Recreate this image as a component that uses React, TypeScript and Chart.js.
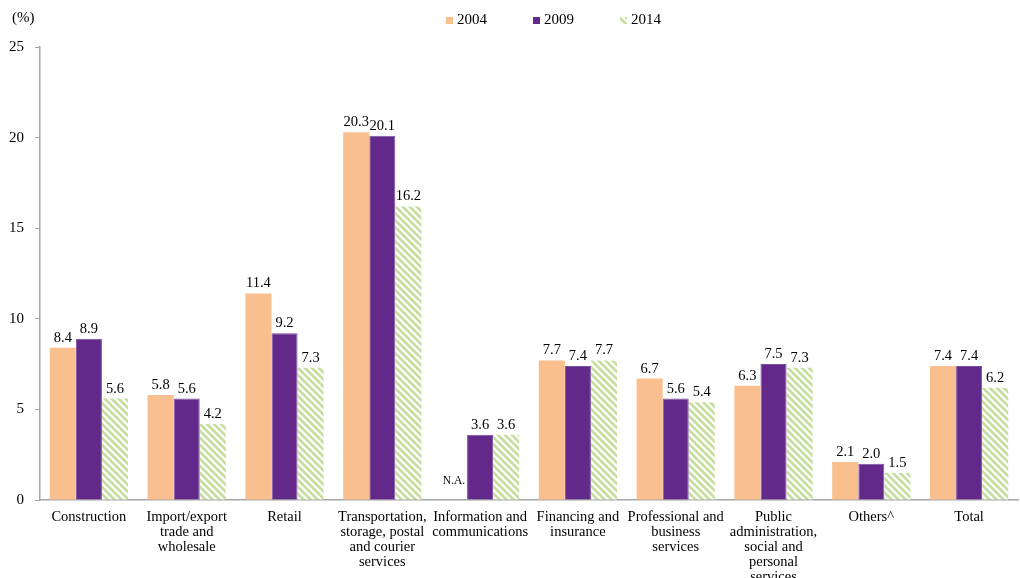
import React, { useEffect, useRef } from "react";
import { Chart, registerables } from "chart.js";

Chart.register(...registerables);

const categories: string[][] = [
  ["Construction"],
  ["Import/export", "trade and", "wholesale"],
  ["Retail"],
  ["Transportation,", "storage, postal", "and courier", "services"],
  ["Information and", "communications"],
  ["Financing and", "insurance"],
  ["Professional and", "business", "services"],
  ["Public", "administration,", "social and", "personal", "services"],
  ["Others^"],
  ["Total"],
];

const seriesNames = ["2004", "2009", "2014"];
const values2004: (number | null)[] = [8.4, 5.8, 11.4, 20.3, null, 7.7, 6.7, 6.3, 2.1, 7.4];
const values2009: (number | null)[] = [8.9, 5.6, 9.2, 20.1, 3.6, 7.4, 5.6, 7.5, 2.0, 7.4];
const values2014: (number | null)[] = [5.6, 4.2, 7.3, 16.2, 3.6, 7.7, 5.4, 7.3, 1.5, 6.2];
const yTicks = [0, 5, 10, 15, 20, 25];

const FONT = "'Liberation Serif', 'Times New Roman', serif";
const C2004 = "#f9bf8f";
const C2009 = "#62298a";
const C2014 = "#c6dfa0";

function makePattern(): CanvasPattern | string {
  const c = document.createElement("canvas");
  const s = 7;
  c.width = s;
  c.height = s;
  const ctx = c.getContext("2d");
  if (!ctx) return C2014;
  ctx.fillStyle = "#ffffff";
  ctx.fillRect(0, 0, s, s);
  ctx.strokeStyle = C2014;
  ctx.lineWidth = 2.8;
  ctx.beginPath();
  for (let k = -1; k <= 1; k++) {
    ctx.moveTo(k * s - 1, -1);
    ctx.lineTo(k * s + s + 1, s + 1);
  }
  ctx.stroke();
  const p = ctx.createPattern(c, "repeat");
  return p || C2014;
}

export default function App() {
  const ref = useRef<HTMLCanvasElement | null>(null);

  useEffect(() => {
    document.body.style.margin = "0";
    const canvas = ref.current;
    if (!canvas) return;
    const pattern = makePattern();
    const fills = [C2004, C2009, pattern];

    const labelPlugin = {
      id: "valueLabels",
      afterDatasetsDraw(chart: any) {
        const ctx = chart.ctx;
        ctx.save();
        ctx.fillStyle = "#000";
        ctx.textAlign = "center";
        chart.data.datasets.forEach((ds: any, di: number) => {
          const meta = chart.getDatasetMeta(di);
          meta.data.forEach((el: any, i: number) => {
            const v = ds.data[i];
            if (v === null || v === undefined) {
              const x = Number.isFinite(el.x) ? el.x : chart.scales.x.getPixelForValue(i);
              ctx.font = `11.5px ${FONT}`;
              ctx.textBaseline = "middle";
              ctx.fillText("N.A.", x, chart.scales.y.getPixelForValue(0) - 19);
              return;
            }
            ctx.font = `14.5px ${FONT}`;
            ctx.textBaseline = "alphabetic";
            ctx.fillText(v.toFixed(1), el.x, el.y - 6);
          });
        });
        ctx.restore();
      },
    };

    const legendPlugin = {
      id: "manualLegend",
      afterDraw(chart: any) {
        const ctx = chart.ctx;
        ctx.save();
        ctx.font = `15px ${FONT}`;
        ctx.textBaseline = "middle";
        ctx.textAlign = "left";
        const starts = [446, 533, 620];
        seriesNames.forEach((name, i) => {
          const x = starts[i];
          ctx.fillStyle = fills[i] as any;
          ctx.fillRect(x, 17, 7, 7);
          ctx.fillStyle = "#000";
          ctx.fillText(name, x + 11, 20);
        });
        ctx.fillText("(%)", 12, 18);
        ctx.restore();
      },
    };

    const chart = new Chart(canvas, {
      type: "bar",
      data: {
        labels: categories,
        datasets: [
          { label: seriesNames[0], data: values2004, backgroundColor: C2004, borderWidth: 0 },
          { label: seriesNames[1], data: values2009, backgroundColor: C2009, borderColor: "#7a4f9e", borderWidth: 1 },
          { label: seriesNames[2], data: values2014, backgroundColor: pattern as any, borderWidth: 0 },
        ],
      },
      options: {
        responsive: false,
        animation: false,
        maintainAspectRatio: false,
        layout: { padding: { top: 47, right: 2, left: 0, bottom: 0 } },
        datasets: { bar: { categoryPercentage: 0.8, barPercentage: 1.0 } },
        plugins: {
          legend: { display: false },
          tooltip: { enabled: false },
        },
        scales: {
          x: {
            grid: { display: false },
            border: { display: true, color: "#a6a6a6", width: 1.5 },
            ticks: {
              color: "#000",
              font: { family: FONT, size: 14.5, lineHeight: "15px" } as any,
              padding: 2,
              maxRotation: 0,
              autoSkip: false,
            },
            afterFit(scale: any) {
              scale.height = 78;
            },
          },
          y: {
            min: 0,
            max: 25,
            afterBuildTicks(scale: any) {
              scale.ticks = yTicks.map((v) => ({ value: v }));
            },
            grid: {
              display: true,
              drawOnChartArea: false,
              drawTicks: true,
              tickLength: 5,
              color: "#a6a6a6",
              lineWidth: 1,
            },
            border: { display: true, color: "#a6a6a6", width: 1.5 },
            ticks: {
              color: "#000",
              font: { family: FONT, size: 15 },
              padding: 11,
            },
            afterFit(scale: any) {
              scale.width = 40;
            },
          },
        },
      },
      plugins: [labelPlugin, legendPlugin],
    });

    return () => chart.destroy();
  }, []);

  return (
    <div style={{ width: 1020, height: 578 }}>
      <canvas ref={ref} width={1020} height={578} style={{ width: 1020, height: 578, display: "block" }} />
    </div>
  );
}
